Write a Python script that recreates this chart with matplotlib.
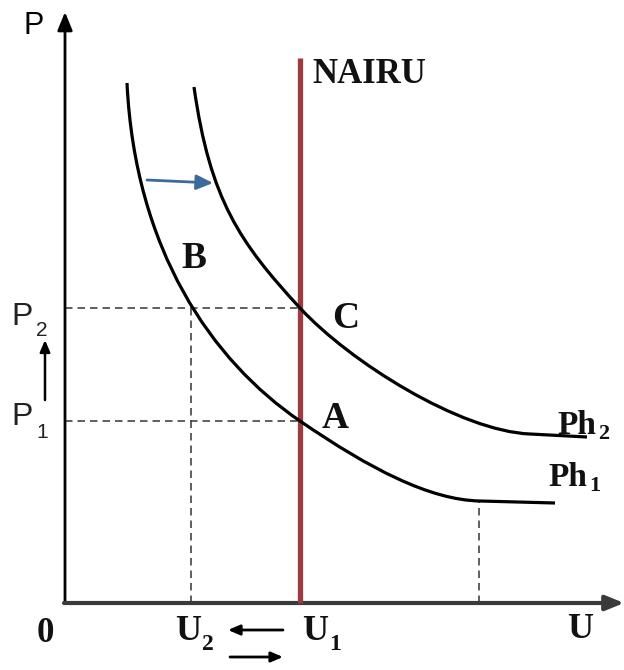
import matplotlib.pyplot as plt
from matplotlib.path import Path
from matplotlib.patches import PathPatch

# ===== data (unemployment U, inflation P) =====
# Phillips curves as two cubic Bezier pieces + flat tail: start, ctrl, ctrl, end, ctrl, ctrl, end, tail
ph1_u = [1.24, 1.40, 2.94, 4.70, 6.10, 7.30, 8.30, 9.80]
ph1_p = [10.40, 7.06, 4.84, 3.64, 2.68, 2.06, 2.04, 2.00]
ph2_u = [2.58, 2.90, 3.50, 4.70, 5.70, 7.90, 9.30, 10.44]
ph2_p = [10.32, 8.06, 7.20, 5.90, 4.82, 3.44, 3.38, 3.32]

u1, u2 = 4.70, 2.52        # U1 (NAIRU), U2
p1, p2 = 3.64, 5.90        # P1, P2
nairu_top = 10.90
u_right, p_right = 8.28, 2.04   # dashed drop on the right of Ph1

serif = ['Liberation Serif', 'DejaVu Serif']
sans = ['Liberation Sans', 'DejaVu Sans']

fig = plt.figure(figsize=(6.24, 6.70), dpi=100)
ax = fig.add_axes([0, 0, 1, 1])
ax.set_xlim(-1.3, 11.18)
ax.set_ylim(-1.34, 12.06)
ax.axis('off')

# axes with arrows
ax.annotate('', xy=(0, 11.82), xytext=(0, 0),
            arrowprops=dict(arrowstyle='-|>,head_length=1.1,head_width=0.45', color='black', lw=2.0,
                            shrinkA=0, shrinkB=0))
ax.annotate('', xy=(11.18, 0), xytext=(-0.02, 0),
            arrowprops=dict(arrowstyle='-|>,head_length=1.1,head_width=0.45', color='#3a3a3a', lw=3.0,
                            shrinkA=0, shrinkB=0))

# dashed guides
dash = dict(color='#444444', lw=1.2, ls=(0, (4.5, 3)))
ax.plot([0, u1], [p2, p2], **dash)
ax.plot([0, u1], [p1, p1], **dash)
ax.plot([u2, u2], [0, p2], **dash)
ax.plot([u_right, u_right], [0, p_right], **dash)

# NAIRU line
ax.plot([u1, u1], [0, nairu_top], color='#9e3b3e', lw=3.8, solid_capstyle='butt', zorder=3)

# Phillips curves
codes = [Path.MOVETO] + [Path.CURVE4] * 6 + [Path.LINETO]
for us, ps in [(ph1_u, ph1_p), (ph2_u, ph2_p)]:
    path = Path(list(zip(us, ps)), codes)
    ax.add_patch(PathPatch(path, facecolor='none', edgecolor='black', lw=2.3, zorder=4))

# shift arrow
ax.annotate('', xy=(2.96, 8.40), xytext=(1.64, 8.46),
            arrowprops=dict(arrowstyle='-|>,head_length=1.0,head_width=0.45', color='#3d6a9e', lw=2.0,
                            shrinkA=0, shrinkB=0))

# small movement arrows
ax.annotate('', xy=(-0.40, 5.26), xytext=(-0.40, 4.06),
            arrowprops=dict(arrowstyle='-|>,head_length=0.7,head_width=0.3', color='black', lw=1.8,
                            shrinkA=0, shrinkB=0))
ax.annotate('', xy=(3.26, -0.54), xytext=(4.36, -0.54),
            arrowprops=dict(arrowstyle='-|>,head_length=0.7,head_width=0.3', color='black', lw=2.0,
                            shrinkA=0, shrinkB=0))
ax.annotate('', xy=(4.36, -1.08), xytext=(3.30, -1.08),
            arrowprops=dict(arrowstyle='-|>,head_length=0.7,head_width=0.3', color='black', lw=2.0,
                            shrinkA=0, shrinkB=0))

# labels
ax.text(-0.62, 11.54, 'P', family=sans, fontsize=22, ha='center', va='center')
ax.text(-0.86, 5.72, 'P', family=sans, fontsize=23, ha='center', va='center', color='#222222')
ax.text(-0.46, 5.44, '2', family=sans, fontsize=15, ha='center', va='center', color='#222222')
ax.text(-0.86, 3.72, 'P', family=sans, fontsize=23, ha='center', va='center', color='#222222')
ax.text(-0.46, 3.40, '1', family=sans, fontsize=15, ha='center', va='center', color='#222222')

bold = dict(family=serif, fontweight='bold', color='#111111')
ax.text(4.94, 10.58, 'NAIRU', fontsize=25, ha='left', va='center', **bold)
ax.text(2.58, 6.90, 'B', fontsize=27, ha='center', va='center', **bold)
ax.text(5.62, 5.70, 'C', fontsize=27, ha='center', va='center', **bold)
ax.text(5.40, 3.70, 'A', fontsize=27, ha='center', va='center', **bold)
ax.text(9.84, 3.38, 'Ph', fontsize=24, ha='left', va='baseline', **bold)
ax.text(10.66, 3.28, '2', fontsize=16, ha='left', va='baseline', **bold)
ax.text(9.66, 2.34, 'Ph', fontsize=24, ha='left', va='baseline', **bold)
ax.text(10.48, 2.24, '1', fontsize=16, ha='left', va='baseline', **bold)

ax.text(-0.40, -0.60, '0', fontsize=25, ha='center', va='center', **bold)
ax.text(2.46, -0.58, 'U', fontsize=26, ha='center', va='center', **bold)
ax.text(2.86, -0.84, '2', fontsize=17, ha='center', va='center', **bold)
ax.text(5.00, -0.58, 'U', fontsize=26, ha='center', va='center', **bold)
ax.text(5.40, -0.84, '1', fontsize=17, ha='center', va='center', **bold)
ax.text(10.30, -0.54, 'U', fontsize=26, ha='center', va='center', **bold)

fig.savefig('out.png', dpi=100, facecolor='white')
